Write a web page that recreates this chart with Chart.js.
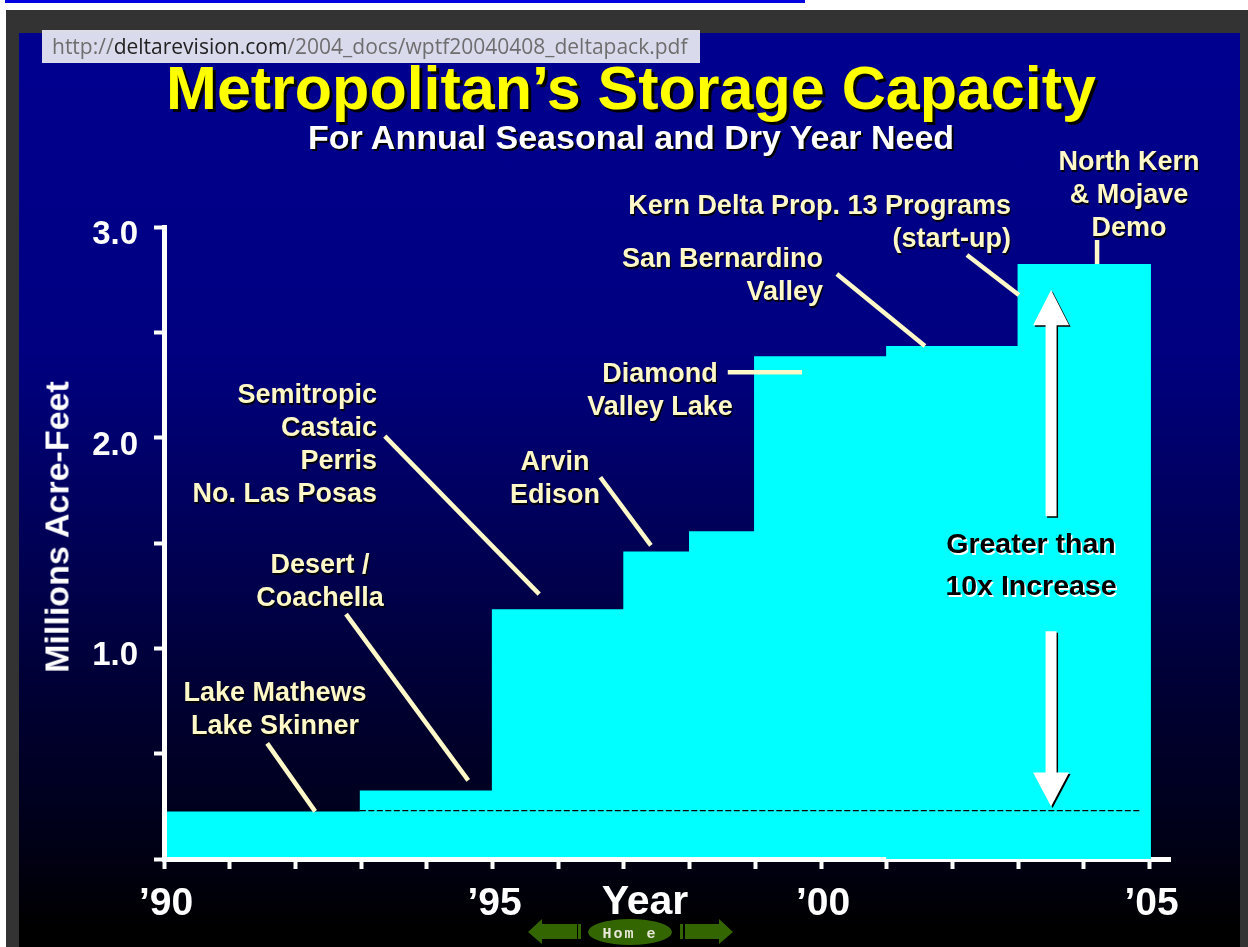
<!DOCTYPE html>
<html>
<head>
<meta charset="utf-8">
<title>Metropolitan's Storage Capacity</title>
<script src="https://cdn.jsdelivr.net/npm/chart.js@4"></script>
<style>
html, body { margin: 0; padding: 0; background: #fff; width: 1248px; height: 947px; overflow: hidden; font-family: "Liberation Sans", Arial, sans-serif; }
#blueline { position: absolute; left: 5px; top: 0; width: 800px; height: 3px; background: #0000e0; }
#frame { position: absolute; left: 6px; top: 10px; width: 1242px; height: 937px; background: #333; }
#slide { position: absolute; left: 19px; top: 33px; width: 1221px; height: 914px; background: linear-gradient(#000090 0%, #000080 35%, #000034 72%, #000018 88%, #000000 98%); }
#chart { position: absolute; left: 0; top: 0; }
#url { position: absolute; left: 42px; top: 30px; width: 658px; height: 33px; background: rgba(230,230,242,.95); color: #6e6e6e; font: 21px/33px "Open Sans", sans-serif; text-indent: 10px; white-space: nowrap; z-index: 5; }
#url b { font-weight: 400; color: #222; }
.txt { position: absolute; font-weight: bold; white-space: nowrap; }
#title { left: 0; width: 1262px; top: 50px; text-align: center; font-size: 61px; line-height: 76px; color: #ff0; text-shadow: 3px 3px 0 #000; }
#sub { left: 0; width: 1262px; top: 118px; text-align: center; font-size: 34px; line-height: 38px; color: #fff; text-shadow: 2px 2px 0 #000; }
#ytitle { left: 57px; top: 527px; font-size: 34px; color: #fff; transform: translate(-50%, -50%) rotate(-90deg); }
#xtitle { left: 645px; top: 900px; font-size: 41px; color: #fff; transform: translate(-50%, -50%); }
.note { position: absolute; font-weight: bold; white-space: nowrap; font-size: 27px; line-height: 33px; color: #fff8c8; text-shadow: 1px 2px 1px #000; }
.c { width: 300px; text-align: center; }
.r { text-align: right; }
#gain { left: 881px; top: 522px; font-size: 28.5px; line-height: 42px; color: #000; text-shadow: 1.5px 1.5px 0 #fff; }
#nav { position: absolute; left: 0; top: 0; }
</style>
</head>
<body>
<div id="blueline"></div>
<div id="frame"></div>
<div id="slide"></div>
<canvas id="chart" width="1248" height="947"></canvas>

<div id="url">http://<b>deltarevision.com</b>/2004_docs/wptf20040408_deltapack.pdf</div>
<div class="txt" id="title">Metropolitan’s Storage Capacity</div>
<div class="txt" id="sub">For Annual Seasonal and Dry Year Need</div>
<div class="txt" id="ytitle">Millions Acre-Feet</div>
<div class="txt" id="xtitle">Year</div>

<div class="note c" style="left:979px;top:145px">North Kern<br>&amp; Mojave<br>Demo</div>
<div class="note r" style="right:237px;top:189px">Kern Delta Prop. 13 Programs<br>(start-up)</div>
<div class="note r" style="right:425px;top:242px">San Bernardino<br>Valley</div>
<div class="note c" style="left:510px;top:357px">Diamond<br>Valley Lake</div>
<div class="note r" style="right:871px;top:378px">Semitropic<br>Castaic<br>Perris<br>No. Las Posas</div>
<div class="note c" style="left:405px;top:445px">Arvin<br>Edison</div>
<div class="note c" style="left:170px;top:548px">Desert /<br>Coachella</div>
<div class="note c" style="left:125px;top:676px">Lake Mathews<br>Lake Skinner</div>
<div class="note c" id="gain">Greater than<br>10x Increase</div>

<svg id="nav" width="1248" height="947">
  <g fill="#336600">
    <polygon points="528,932 542,919 542,924 577,924 577,939 542,939 542,944"/>
    <rect x="578" y="924" width="3" height="15"/>
    <ellipse cx="630" cy="932" rx="42" ry="13"/>
    <rect x="680" y="924" width="3" height="15"/>
    <polygon points="733,932 719,919 719,924 685,924 685,939 719,939 719,944"/>
  </g>
  <text x="630" y="938" text-anchor="middle" font-family="Liberation Mono" font-size="15" font-weight="bold" fill="#e8e8d8" letter-spacing="2">Hom e</text>
</svg>

<script>
// storage steps, each value holds until the next year
const years = [1990, 1992.98, 1994.99, 1996.99, 1997.99, 1998.98, 2000.99, 2002.99, 2005.02];
const capacity = [0.226, 0.325, 1.185, 1.46, 1.556, 2.387, 2.435, 2.824, 2.824];

const xTickYears = [1990, 1995, 2000, 2005];
const xTickLabels = ["’90", "’95", "’00", "’05"];
const yTickValues = [1, 2, 3];
const yTickLabels = ["1.0", "2.0", "3.0"];

// leader lines from the callouts: [year, value] pairs
const leaderLakes = [[1991.57, 0.549], [1992.30, 0.226]];
const leaderDesert = [[1992.77, 1.162], [1994.63, 0.373]];
const leaderSemitropic = [[1993.36, 2.007], [1995.71, 1.257]];
const leaderArvin = [[1996.64, 1.812], [1997.41, 1.489]];
const leaderDiamond = [[1998.58, 2.311], [1999.71, 2.311]];
const leaderSanBernardino = [[2000.24, 2.777], [2001.58, 2.435]];
const leaderKern = [[2002.22, 2.867], [2003.01, 2.677]];
const leaderNorthKern = [[2004.20, 2.938], [2004.20, 2.824]];
const leaders = [leaderLakes, leaderDesert, leaderSemitropic, leaderArvin,
    leaderDiamond, leaderSanBernardino, leaderKern, leaderNorthKern];

const baselineYears = [1992.98, 2004.87];
const baselineValue = 0.23;

// the two "10x" arrows
const arrowYear = 2003.5;
const arrowUp = { tip: 2.701, base: 2.534, end: 1.627 };
const arrowDown = { tip: 0.249, base: 0.411, end: 1.081 };

// the axis line is thinner where the fill runs further down
const thinAxisFrom = 2000.99;

function toPoints(xs, ys) {
    return xs.map((x, i) => ({ x: x, y: ys[i] }));
}

function dibujarFlecha(ctx, chart, a) {
    const x = chart.scales.x.getPixelForValue(arrowYear);
    const y = chart.scales.y;
    const tip = y.getPixelForValue(a.tip);
    const base = y.getPixelForValue(a.base);
    const end = y.getPixelForValue(a.end);
    const trazar = (dx, dy) => {
        ctx.beginPath();
        ctx.moveTo(x + dx, tip + dy);
        ctx.lineTo(x + 18 + dx, base + dy);
        ctx.lineTo(x + 5.5 + dx, base + dy);
        ctx.lineTo(x + 5.5 + dx, end + dy);
        ctx.lineTo(x - 5.5 + dx, end + dy);
        ctx.lineTo(x - 5.5 + dx, base + dy);
        ctx.lineTo(x - 18 + dx, base + dy);
        ctx.closePath();
        ctx.fill();
    };
    ctx.fillStyle = "#000";
    trazar(1.5, 1.5);
    ctx.fillStyle = "#fff";
    trazar(0, 0);
}

const flechas = {
    id: "flechas",
    afterDraw(chart) {
        const ctx = chart.ctx;
        const sx = chart.scales.x;
        const bottom = chart.scales.y.getPixelForValue(0);
        ctx.save();
        ctx.fillStyle = "#00ffff";
        const x0 = sx.getPixelForValue(thinAxisFrom);
        ctx.fillRect(x0, bottom - 3, sx.getPixelForValue(years[years.length - 1]) - x0, 3);
        dibujarFlecha(ctx, chart, arrowUp);
        dibujarFlecha(ctx, chart, arrowDown);
        ctx.restore();
    }
};

const datasets = [{
    label: "Storage capacity",
    data: toPoints(years, capacity),
    stepped: "before",
    fill: "origin",
    backgroundColor: "#00ffff",
    borderWidth: 0,
    pointRadius: 0,
    order: 3
}, {
    label: "Baseline",
    data: toPoints(baselineYears, [baselineValue, baselineValue]),
    borderColor: "#000",
    borderWidth: 1.3,
    borderDash: [6, 2.5],
    pointRadius: 0,
    order: 2
}];

leaders.forEach((l, i) => {
    datasets.push({
        label: `Leader ${i + 1}`,
        data: l.map(p => ({ x: p[0], y: p[1] })),
        borderColor: "#fff8c8",
        borderWidth: 4.5,
        pointRadius: 0,
        order: 1
    });
});

new Chart(document.getElementById("chart"), {
    type: "line",
    data: { datasets },
    plugins: [flechas],
    options: {
        responsive: false,
        animation: false,
        events: [],
        layout: { padding: { top: 227, right: 78, left: 0, bottom: 0 } },
        plugins: { legend: { display: false }, tooltip: { enabled: false }, title: { display: false } },
        scales: {
            x: {
                type: "linear",
                min: 1990,
                max: 2005.31,
                afterFit: s => { s.height = 88; },
                border: { display: true, color: "#fff", width: 5, z: 1 },
                grid: { drawOnChartArea: false, drawTicks: true, color: "#fff", tickLength: 10, tickWidth: 4 },
                ticks: {
                    stepSize: 1,
                    includeBounds: false,
                    autoSkip: false,
                    maxRotation: 0,
                    padding: 12,
                    labelOffset: 2,
                    color: "#fff",
                    font: { family: "Liberation Sans", size: 39, weight: "bold" },
                    callback: v => {
                        const i = xTickYears.indexOf(v);
                        return i >= 0 ? xTickLabels[i] : "";
                    }
                }
            },
            y: {
                type: "linear",
                min: 0,
                max: 3,
                afterFit: s => { s.width = 164; },
                border: { display: true, color: "#fff", width: 5, z: 1 },
                grid: { drawOnChartArea: false, drawTicks: true, color: "#fff", tickLength: 10, tickWidth: 4 },
                ticks: {
                    stepSize: 0.5,
                    autoSkip: false,
                    padding: 16,
                    labelOffset: 8,
                    color: "#fff",
                    font: { family: "Liberation Sans", size: 33, weight: "bold" },
                    callback: v => {
                        const i = yTickValues.indexOf(v);
                        return i >= 0 ? yTickLabels[i] : "";
                    }
                }
            }
        }
    }
});
</script>
</body>
</html>
